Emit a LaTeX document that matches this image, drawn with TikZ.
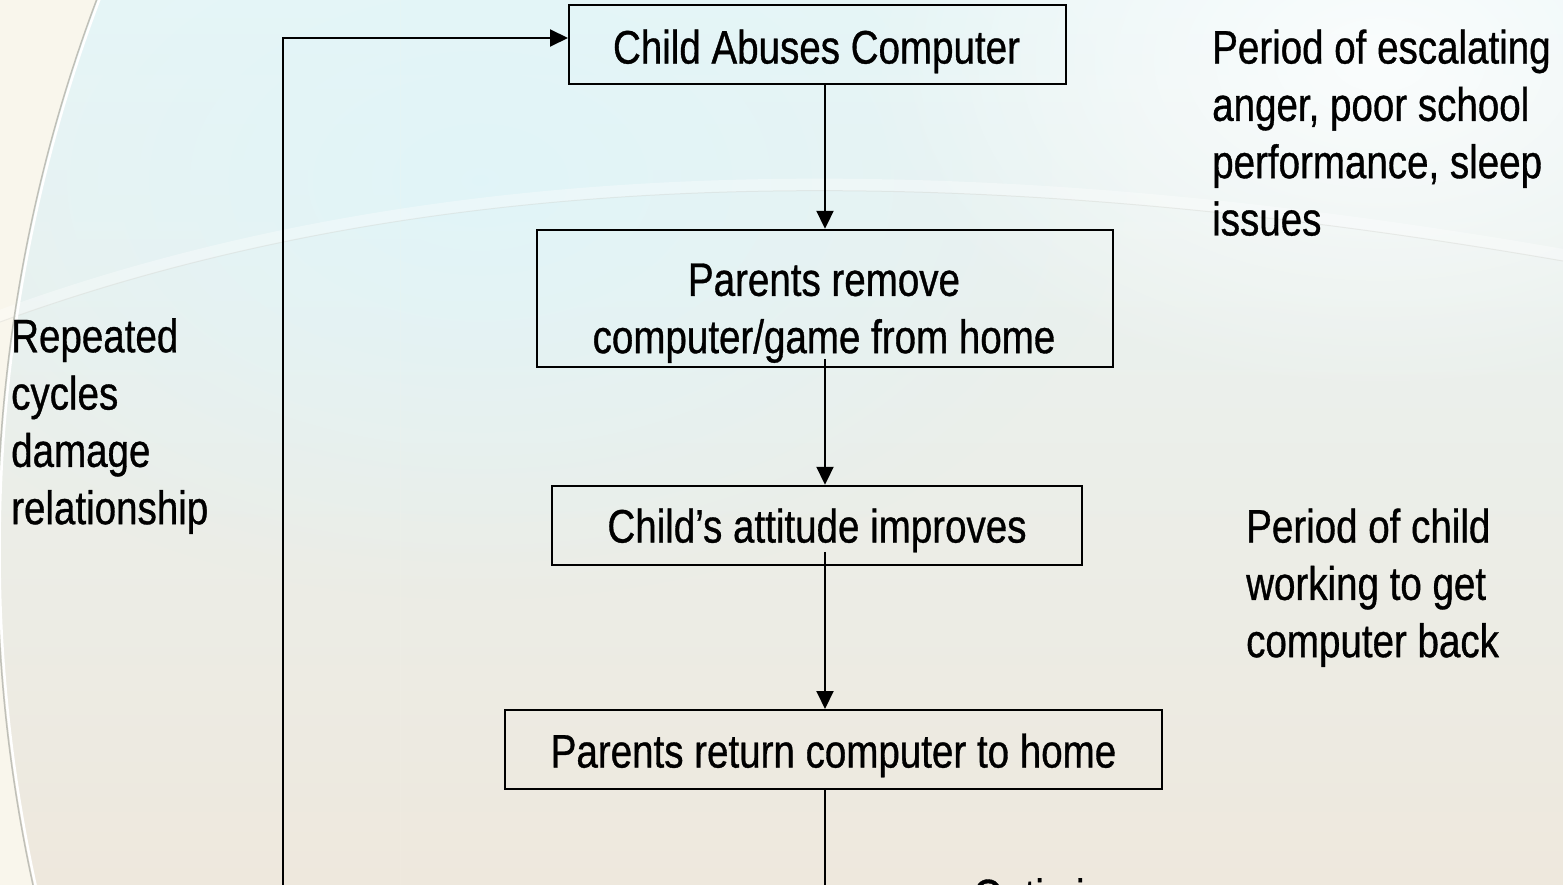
\documentclass[tikz,border=0pt]{standalone}
\usepackage{fontspec}
\setmainfont{Liberation Sans}[FakeStretch=0.82,FakeBold=0.7]
\usetikzlibrary{arrows.meta,fadings}
\definecolor{bgtop}{RGB}{232,245,246}
\definecolor{bgmid}{RGB}{243,246,240}
\definecolor{bgbot}{RGB}{238,232,221}
\definecolor{cream}{RGB}{249,246,236}
\definecolor{glowcyan}{RGB}{224,245,249}
\definecolor{arcgray}{RGB}{192,192,184}
\tikzfading[name=softglow, inner color=transparent!0, outer color=transparent!100]
\begin{document}
\begin{tikzpicture}[x=1pt,y=-1pt,
  box/.style={draw=black,line width=2pt,inner sep=0pt,minimum height=79pt},
  txt/.style={inner sep=0pt,font=\fontsize{47}{57.3}\selectfont},
  arr/.style={line width=2pt,-{Triangle[length=18pt,width=17pt]}}]
\useasboundingbox (0,0) rectangle (1563,885);
\clip (0,0) rectangle (1563,885);
% background
\shade[top color=bgtop, middle color=bgmid, bottom color=bgbot] (0,0) rectangle (1563,885);
\fill[glowcyan, opacity=0.9, path fading=softglow] (480,180) ellipse (650 and 420);
\fill[white, opacity=0.8, path fading=softglow] (1380,60) ellipse (520 and 340);
\begin{scope}
  \clip (0,0) rectangle (400,885);
  \fill[cream, even odd rule] (-10,-10) rectangle (400,900) (1559.5,550) circle (1562.5);
\end{scope}
\draw[white, line width=12pt, opacity=0.35, line cap=round] (0,316) .. controls (400,170) and (900,140) .. (1563,255);
\draw[arcgray, opacity=0.25, line width=1pt] (0,322) .. controls (400,176) and (900,146) .. (1563,261);
\draw[white, line width=2.5pt] (1559.5,550) circle (1560);
\draw[arcgray, line width=1.5pt] (1559.5,550) circle (1562.5);
% boxes
\node[box, minimum width=497pt] (b1) at (817.5,45) {};
\node[box, minimum width=576pt, minimum height=137pt] (b2) at (825,298.3) {};
\node[box, minimum width=530pt] (b3) at (817,525.3) {};
\node[box, minimum width=657pt] (b4) at (833,749.5) {};
% box texts
\node[txt, anchor=north] (t1) at (816.5,29.3) {Child Abuses Computer};
\node[txt, anchor=north, align=center] (t2) at (824,263.3) {Parents remove\\computer/game from home};
\node[txt, anchor=north] (t3) at (817,508.3) {Child’s attitude improves};
\node[txt, anchor=north] (t4) at (833.5,733.3) {Parents return computer to home};
% side notes
\node[txt, anchor=north west, align=left] (n1) at (1212,29.3) {Period of escalating\\anger, poor school\\performance, sleep\\issues};
\node[txt, anchor=north west, align=left] (n2) at (1246,508.3) {Period of child\\working to get\\computer back};
\node[txt, anchor=north west, align=left] (n3) at (11,318) {Repeated\\cycles\\damage\\relationship};
\node[txt, anchor=north west] (n4) at (973,878) {Optimism};
% connectors
\coordinate (spine) at (825,0);
\coordinate (loopx) at (283,0);
\coordinate (bottom) at (0,960);
\draw[arr] (b1.south -| spine) -- (b2.north -| spine);
\draw[arr] ([yshift=9pt]b2.south -| spine) -- (b3.north -| spine);
\draw[arr] ([yshift=14pt]b3.south -| spine) -- (b4.north -| spine);
\draw[arr] (b4.south -| spine) -- (spine |- bottom) -- (loopx |- bottom) -- ([yshift=7pt]b1.west -| loopx) -- ([yshift=7pt]b1.west);
\end{tikzpicture}
\end{document}
